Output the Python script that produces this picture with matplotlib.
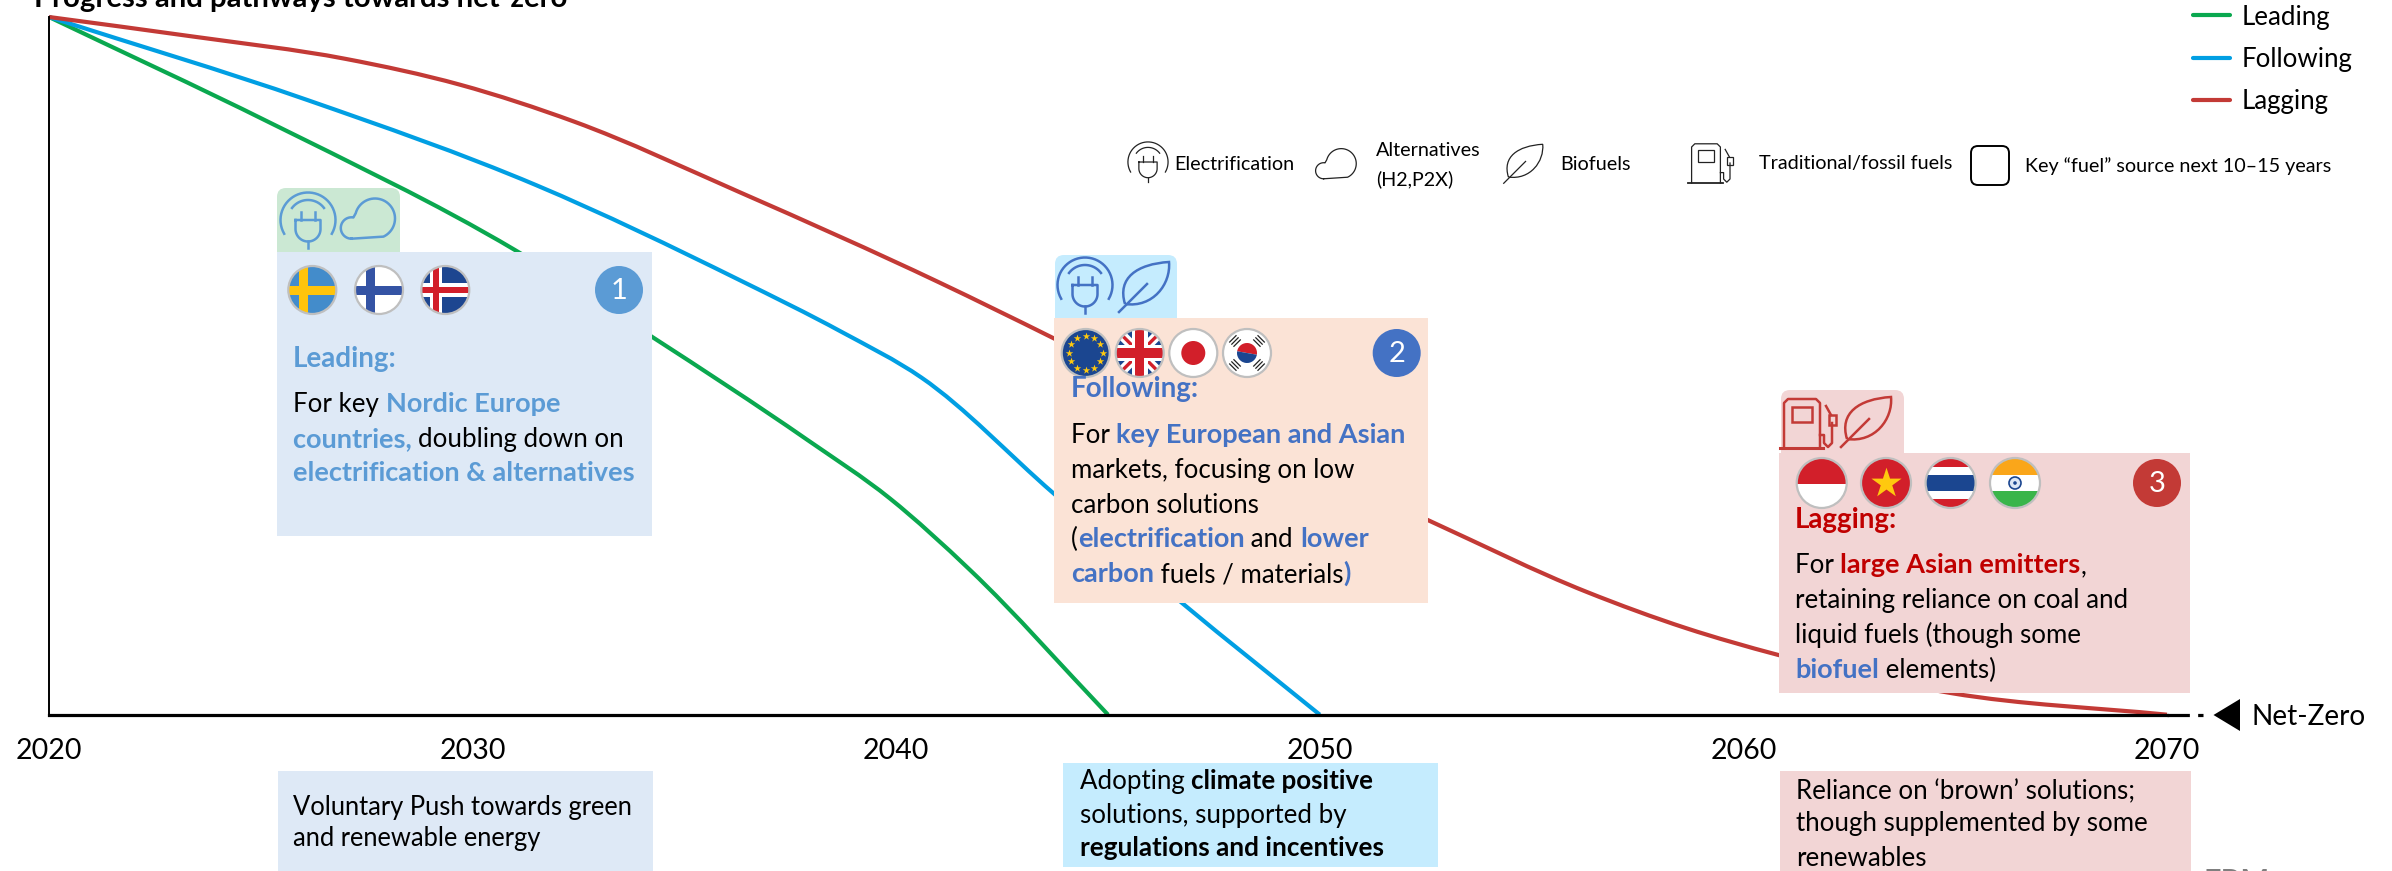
import numpy as np
import matplotlib
matplotlib.use("Agg")
import matplotlib.pyplot as plt
from matplotlib.patches import Circle, Rectangle, FancyBboxPatch, Polygon, PathPatch, Wedge
from matplotlib.path import Path

plt.rcParams["font.family"] = ["Lato", "DejaVu Sans"]

# pathways, share of today's emissions left
leading_years = [2020, 2025.2, 2031.0, 2034.2, 2037.9, 2039.85, 2041.75, 2045]
leading_vals = [100, 84.9, 66.6, 54.3, 39.4, 31.0, 20.7, 0]
following_years = [2020, 2026.1, 2031.5, 2036.3, 2038.7, 2040.6, 2043.7, 2046.75, 2050]
following_vals = [100, 88.1, 75.9, 62.3, 54.9, 48.3, 31.8, 16.0, 0]
lagging_years = [2020, 2023.4, 2027.0, 2029.7, 2032.4, 2036.3, 2041.0, 2043.7, 2048, 2052.55,
                 2056.3, 2058.65, 2060.8, 2064.9, 2070]
lagging_vals = [100, 97.2, 94.0, 90.3, 85.0, 74.9, 62.0, 54.0, 40.6, 27.9,
                17.6, 12.4, 8.6, 3.1, 0]
tick_years = [2020, 2030, 2040, 2050, 2060, 2070]
series_names = ["Leading", "Following", "Lagging"]

GREEN = "#0AA84F"
BLUE = "#019FE3"
RED = "#C33A36"
C_LEAD = "#5B9BD5"
C_FOLLOW = "#4472C4"
C_LAG = "#C00000"
BODY = 18.6
BODY_BOLD = 19.5
KEY = 14.2

fig = plt.figure(figsize=(23.92, 8.71), dpi=100)

# main chart, 2020 to 2070 on the bottom axis
ax = fig.add_axes([49 / 2392, 1 - 714.7 / 871, 2118 / 2392, (714.7 - 17) / 871])
ax.set_xlim(2020, 2070)
ax.set_ylim(0, 100)
for side in ["top", "right"]:
    ax.spines[side].set_visible(False)
ax.spines["left"].set_linewidth(1.4)
ax.spines["bottom"].set_linewidth(2.3)
ax.set_yticks([])
ax.set_xticks(tick_years)
ax.tick_params(axis="x", length=0, pad=17, labelsize=20.5)


def draw_curve(years, vals, color):
    # bezier segments through the points so the pathway stays smooth
    x = np.array(years, dtype=float)
    y = np.array(vals, dtype=float)
    slope = np.gradient(y, x)
    verts = [(x[0], y[0])]
    codes = [Path.MOVETO]
    for i in range(len(x) - 1):
        h = x[i + 1] - x[i]
        verts += [(x[i] + h / 3, y[i] + slope[i] * h / 3),
                  (x[i + 1] - h / 3, y[i + 1] - slope[i + 1] * h / 3),
                  (x[i + 1], y[i + 1])]
        codes += [Path.CURVE4] * 3
    ax.add_patch(PathPatch(Path(verts, codes), fc="none", ec=color, lw=3, clip_on=False, capstyle="butt"))


draw_curve(leading_years, leading_vals, GREEN)
draw_curve(following_years, following_vals, BLUE)
draw_curve(lagging_years, lagging_vals, RED)
ax.plot([2070, 2070.85], [0, 0], color="black", lw=2.3, clip_on=False, ls=(0, (7, 2.6)))

# everything else is placed in pixels on a full-figure overlay
ov = fig.add_axes([0, 0, 1, 1], zorder=5)
ov.set_xlim(0, 2392)
ov.set_ylim(871, 0)
ov.axis("off")
renderer = fig.canvas.get_renderer()


def text_width(s, **kw):
    t = ov.text(0, 0, s + "|", **kw)
    w = t.get_window_extent(renderer).width
    t.set_text("|")
    w -= t.get_window_extent(renderer).width
    t.remove()
    return w


def rich_line(x, y, runs, size=BODY, bold_size=BODY_BOLD):
    # runs are (text, colour, bold) drawn one after the other on a baseline
    for s, color, bold in runs:
        kw = dict(fontsize=bold_size if bold else size, fontweight="bold" if bold else "normal")
        ov.text(x, y, s, color=color, va="baseline", ha="left", zorder=10, **kw)
        x += text_width(s, **kw)


def box(x0, y0, x1, y1, color, z=2):
    ov.add_patch(Rectangle((x0, y0), x1 - x0, y1 - y0, fc=color, ec="none", zorder=z))


def tab(x0, y0, x1, y1, color):
    ov.add_patch(FancyBboxPatch((x0, y0), x1 - x0, y1 - y0 + 20, boxstyle="round,pad=0,rounding_size=9",
                                fc=color, ec="none", zorder=1))


def arc_pts(cx, cy, r, a0, a1, n=40):
    a = np.radians(np.linspace(a0, a1, n))
    return cx + r * np.cos(a), cy - r * np.sin(a)


def plug(cx, cy, s, color, lw):
    x, y = arc_pts(cx, cy, 27.5 * s, -30, 210)
    ov.plot(x, y, color=color, lw=lw, zorder=4)
    x, y = arc_pts(cx, cy, 20 * s, 37, 143)
    ov.plot(x, y, color=color, lw=lw, zorder=4)
    bx, by = arc_pts(cx, cy + 9 * s, 12.5 * s, 180, 360)
    bx = np.r_[cx - 12.5 * s, bx, cx + 12.5 * s, cx - 12.5 * s]
    by = np.r_[cy, by, cy, cy]
    ov.plot(bx, by, color=color, lw=lw, zorder=4)
    for dx in [-6.7, 6.7]:
        ov.plot([cx + dx * s] * 2, [cy - 8 * s, cy], color=color, lw=lw, zorder=4)
    ov.plot([cx, cx], [cy + 21.5 * s, cy + 28 * s], color=color, lw=lw, zorder=4)


def cloud(cx, cy, s, color, lw):
    x1, y1 = arc_pts(cx - 16.5 * s, cy + 9 * s, 10.7 * s, 270, 80)
    x2, y2 = arc_pts(cx + 7 * s, cy - 0.5 * s, 20 * s, 165, -65)
    x = np.r_[x1, x2, x1[0]]
    y = np.r_[y1, y2, y1[0]]
    ov.plot(x, y, color=color, lw=lw, zorder=4)


def leaf(cx, cy, s, color, lw):
    verts = [(-20, 18), (-28, -8), (-8, -22), (24, -24), (26, -2), (8, 22), (-20, 18)]
    verts = [(cx + a * s, cy + b * s) for a, b in verts]
    codes = [Path.MOVETO] + [Path.CURVE4] * 6
    ov.add_patch(PathPatch(Path(verts, codes), fc="none", ec=color, lw=lw, zorder=4))
    ov.plot([cx - 26 * s, cx + 2 * s], [cy + 26 * s, cy - 2 * s], color=color, lw=lw, zorder=4)


def pump(cx, cy, s, color, lw):
    bx = [-18, -18, -14, 14, 18, 18]
    by = [25, -20, -24, -24, -20, 25]
    ov.plot([cx + a * s for a in bx], [cy + b * s for b in by], color=color, lw=lw, zorder=4)
    ov.add_patch(Rectangle((cx - 10 * s, cy - 16 * s), 20 * s, 15 * s, fc="none", ec=color, lw=lw, zorder=4))
    ov.plot([cx - 22 * s, cx + 21 * s], [cy + 25 * s, cy + 25 * s], color=color, lw=lw + 0.4, zorder=4)
    hx = [18, 22, 22, 26, 30, 30]
    hy = [12, 12, 20, 24, 20, 0]
    ov.plot([cx + a * s for a in hx], [cy + b * s for b in hy], color=color, lw=lw, zorder=4)
    ov.add_patch(Rectangle((cx + 26.5 * s, cy - 8 * s), 7 * s, 10 * s, fc="none", ec=color, lw=lw, zorder=4))
    ov.plot([cx + 29 * s, cx + 24 * s], [cy - 8 * s, cy - 17 * s], color=color, lw=lw, zorder=4)


def flag_base(cx, cy, r, color):
    clip = Circle((cx, cy), r, transform=ov.transData)
    base = Circle((cx, cy), r, fc=color, ec="none", zorder=5)
    ov.add_patch(base)
    return clip


def flag_rect(clip, cx, cy, x0, y0, x1, y1, color, z=6):
    p = Rectangle((cx + x0, cy + y0), x1 - x0, y1 - y0, fc=color, ec="none", zorder=z)
    ov.add_patch(p)
    p.set_clip_path(clip)


def flag_ring(cx, cy, r):
    ov.add_patch(Circle((cx, cy), r, fc="none", ec="#BFBFBF", lw=1.6, zorder=8))


def nordic_flag(cx, cy, r, bg, layers):
    clip = flag_base(cx, cy, r, bg)
    for half, thick, offset, color in layers:
        flag_rect(clip, cx, cy, offset - half, -r, offset + half, r, color)
        flag_rect(clip, cx, cy, -r, -thick, r, thick, color)
    flag_ring(cx, cy, r)


def eu_flag(cx, cy, r):
    flag_base(cx, cy, r, "#1B4690")
    a = np.radians(np.arange(0, 360, 30))
    ov.scatter(cx + 17 * np.cos(a), cy + 17 * np.sin(a), marker="*", s=32, color="#FFC90E", linewidths=0, zorder=7)
    flag_ring(cx, cy, r)


def uk_flag(cx, cy, r):
    clip = flag_base(cx, cy, r, "#1B4690")
    for sx in [-1, 1]:
        for color, w in [("white", 7), ("#D21F2A", 2.4)]:
            line, = ov.plot([cx - sx * r, cx + sx * r], [cy - r, cy + r], color=color, lw=w, zorder=6)
            line.set_clip_path(clip)
    flag_rect(clip, cx, cy, -8, -r, 8, r, "white", 7)
    flag_rect(clip, cx, cy, -r, -8, r, 8, "white", 7)
    flag_rect(clip, cx, cy, -4.7, -r, 4.7, r, "#D21F2A", 7)
    flag_rect(clip, cx, cy, -r, -4.7, r, 4.7, "#D21F2A", 7)
    flag_ring(cx, cy, r)


def japan_flag(cx, cy, r):
    flag_base(cx, cy, r, "white")
    ov.add_patch(Circle((cx, cy), 12, fc="#D21F2A", ec="none", zorder=6))
    flag_ring(cx, cy, r)


def korea_flag(cx, cy, r):
    flag_base(cx, cy, r, "white")
    ov.add_patch(Wedge((cx, cy), 10, 190, 370, fc="#D21F2A", ec="none", zorder=6))
    ov.add_patch(Wedge((cx, cy), 10, 10, 190, fc="#1B4690", ec="none", zorder=6))
    for ang in [45, 135, 225, 315]:
        a = np.radians(ang)
        for d in [14, 17, 20]:
            mx, my = cx + d * np.cos(a), cy + d * np.sin(a)
            ov.plot([mx - 4.5 * np.sin(a), mx + 4.5 * np.sin(a)], [my + 4.5 * np.cos(a), my - 4.5 * np.cos(a)],
                    color="#222222", lw=0.9, zorder=6)
    flag_ring(cx, cy, r)


def indonesia_flag(cx, cy, r):
    clip = flag_base(cx, cy, r, "white")
    flag_rect(clip, cx, cy, -r, -r, r, 1, "#D21F2A")
    flag_ring(cx, cy, r)


def vietnam_flag(cx, cy, r):
    flag_base(cx, cy, r, "#D21F2A")
    ov.scatter([cx], [cy], marker="*", s=520, color="#FFC90E", linewidths=0, zorder=7)
    flag_ring(cx, cy, r)


def thailand_flag(cx, cy, r):
    clip = flag_base(cx, cy, r, "white")
    flag_rect(clip, cx, cy, -r, -r, r, -16, "#D21F2A")
    flag_rect(clip, cx, cy, -r, -8, r, 8, "#1B4690")
    flag_rect(clip, cx, cy, -r, 16, r, r, "#D21F2A")
    flag_ring(cx, cy, r)


def india_flag(cx, cy, r):
    clip = flag_base(cx, cy, r, "white")
    flag_rect(clip, cx, cy, -r, -r, r, -8, "#FAA61A")
    flag_rect(clip, cx, cy, -r, 8, r, r, "#39B54A")
    ov.add_patch(Circle((cx, cy), 6, fc="#DCE6F5", ec="#1B4690", lw=1.2, zorder=7))
    ov.add_patch(Circle((cx, cy), 1.8, fc="#1B4690", ec="none", zorder=7))
    flag_ring(cx, cy, r)


def badge(cx, cy, label, color):
    ov.add_patch(Circle((cx, cy), 24, fc=color, ec="none", zorder=6))
    ov.text(cx, cy + 1, label, color="white", fontsize=21, ha="center", va="center", zorder=7)


# title sits right at the top edge
ov.text(34, 7, "Progress and pathways towards net-zero", fontsize=21.2, fontweight="bold", va="baseline", ha="left")

# line key
for name, color, y in zip(series_names, [GREEN, BLUE, RED], [15, 58, 100]):
    ov.plot([2193, 2230], [y, y], color=color, lw=3, solid_capstyle="round")
    ov.text(2242, y + 2, name, fontsize=18.6, va="center", ha="left")

# fuel key
LEG = "#222222"
plug(1148, 162, 0.73, LEG, 0.9)
ov.text(1174, 164, "Electrification", fontsize=KEY, va="center")
cloud(1336, 164, 0.75, LEG, 0.9)
ov.text(1376, 151, "Alternatives", fontsize=KEY, va="center")
ov.text(1376, 179, "(H2,P2X)", fontsize=KEY, va="center")
leaf(1524, 163, 0.78, LEG, 0.9)
ov.text(1560, 164, "Biofuels", fontsize=KEY, va="center")
pump(1706, 163, 0.8, LEG, 0.9)
ov.text(1759, 164, "Traditional/fossil fuels", fontsize=KEY, va="center")
ov.add_patch(FancyBboxPatch((1971, 146), 38, 39, boxstyle="round,pad=0,rounding_size=7", fc="none", ec="black", lw=1.4))
ov.text(2025, 166, "Key “fuel” source next 10–15 years", fontsize=KEY, va="center")

# leading panel
tab(277, 188, 400, 252, "#CBE8D3")
box(277, 252, 652, 536, "#DEE9F6")
plug(308, 220, 1.0, C_LEAD, 1.8)
cloud(368, 219, 1.0, C_LEAD, 1.8)
nordic_flag(312.3, 290, 24, "#438CCB", [(4.5, 4.5, -8.5, "#FFC40C")])
nordic_flag(379, 290, 24, "white", [(4.5, 4.5, -8.5, "#3453A4")])
nordic_flag(445.3, 290, 24, "#1D4690", [(6, 7, -9, "white"), (3, 3, -9, "#D21F2A")])
badge(619, 290, "1", C_LEAD)
rich_line(293, 367, [("Leading:", C_LEAD, True)], bold_size=20)
rich_line(293, 412, [("For key ", "black", False), ("Nordic Europe", C_LEAD, True)])
rich_line(293, 447, [("countries, ", C_LEAD, True), ("doubling down on", "black", False)])
rich_line(293, 481, [("electrification & alternatives", C_LEAD, True)])

# following panel
tab(1055, 255, 1177, 318, "#C5ECFE")
box(1054, 318, 1428, 603, "#FBE3D6")
plug(1085, 285, 1.0, C_FOLLOW, 1.8)
leaf(1145, 286, 1.0, C_FOLLOW, 1.8)
eu_flag(1085.7, 353, 24)
uk_flag(1139.7, 353, 24)
japan_flag(1193.3, 353, 24)
korea_flag(1247, 353, 24)
badge(1396.7, 353, "2", C_FOLLOW)
rich_line(1071, 397, [("Following:", C_FOLLOW, True)], bold_size=20)
rich_line(1071, 443, [("For ", "black", False), ("key European and Asian", C_FOLLOW, True)])
rich_line(1071, 478, [("markets, focusing on low", "black", False)])
rich_line(1071, 513, [("carbon solutions", "black", False)])
rich_line(1071, 547, [("(", "black", False), ("electrification", C_FOLLOW, True), (" and ", "black", False),
                      ("lower", C_FOLLOW, True)])
rich_line(1071, 582, [("carbon", C_FOLLOW, True), (" fuels / materials", "black", False), (")", C_FOLLOW, True)])

# lagging panel
tab(1781, 390, 1904, 453, "#F2D5D5")
box(1779, 453, 2190, 693, "#F2D5D5")
pump(1802, 423, 1.0, RED, 1.8)
leaf(1867, 421, 1.0, RED, 1.8)
indonesia_flag(1821.7, 483, 25)
vietnam_flag(1886, 483, 25)
thailand_flag(1950.6, 483, 25)
india_flag(2015, 483, 25)
badge(2157, 483, "3", RED)
rich_line(1795, 528, [("Lagging:", C_LAG, True)], bold_size=20)
rich_line(1795, 573, [("For ", "black", False), ("large Asian emitters", C_LAG, True), (",", "black", False)])
rich_line(1795, 608, [("retaining reliance on coal and", "black", False)])
rich_line(1795, 643, [("liquid fuels (though some", "black", False)])
rich_line(1795, 678, [("biofuel", C_FOLLOW, True), (" elements)", "black", False)])

# net-zero marker past the end of the axis
ov.add_patch(Polygon([(2213.5, 715), (2240, 699), (2240, 731)], fc="black", ec="none"))
ov.text(2251, 725, "Net-Zero", fontsize=20.2, va="baseline", ha="left")

# strips under the axis
box(277.5, 771, 652.6, 871, "#DEE9F6")
rich_line(293, 815, [("Voluntary Push towards green", "black", False)], size=18.4)
rich_line(293, 846, [("and renewable energy", "black", False)], size=18.4)
box(1063, 763, 1438, 867, "#C5ECFE")
rich_line(1079.5, 789, [("Adopting ", "black", False), ("climate positive", "black", True)], bold_size=18.6)
rich_line(1079.5, 823, [("solutions, supported by", "black", False)])
rich_line(1079.5, 856, [("regulations and incentives", "black", True)], bold_size=18.8)
box(1780, 771, 2191, 871, "#F2D5D5")
rich_line(1796, 799, [("Reliance on ‘brown’ solutions;", "black", False)])
rich_line(1796, 831, [("though supplemented by some", "black", False)])
rich_line(1796, 866, [("renewables", "black", False)])

ov.text(2204, 891, "ERM", fontsize=22, fontweight="bold", color="#7F7F7F", va="baseline", ha="left")

fig.savefig("out.png", dpi=100)
